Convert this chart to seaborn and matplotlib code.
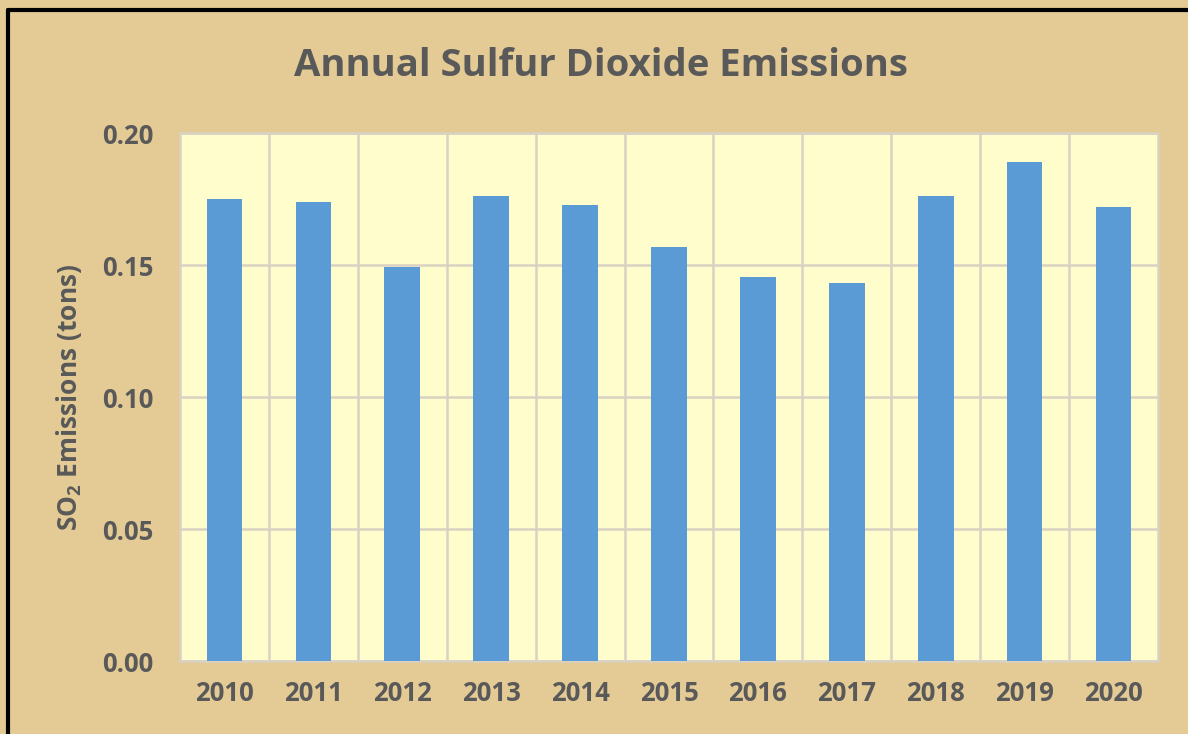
import pandas as pd
import matplotlib.pyplot as plt
import seaborn as sns

years = ["2010", "2011", "2012", "2013", "2014", "2015",
         "2016", "2017", "2018", "2019", "2020"]
emissions = [0.175, 0.1737, 0.1494, 0.1762, 0.1726, 0.1569,
             0.1456, 0.1432, 0.1761, 0.1889, 0.1719]

df = pd.DataFrame({"Year": years, "Emissions": emissions})

sns.set_style("white")
plt.rcParams["font.family"] = ["Open Sans", "DejaVu Sans"]
plt.rcParams["mathtext.fontset"] = "custom"
plt.rcParams["mathtext.rm"] = "Open Sans"
plt.rcParams["mathtext.bf"] = "Open Sans:bold"

text_color = "#595959"
grid_color = "#D9D2C3"

fig = plt.figure(figsize=(11.88, 7.34), dpi=100, facecolor="#E4CB96")
ax = fig.add_axes([180 / 1188, 1 - 661 / 734, 978 / 1188, 528 / 734])
ax.set_facecolor("#FFFDCC")

sns.barplot(data=df, x="Year", y="Emissions", color="#5B9BD5",
            saturation=1, width=0.4, linewidth=0, ax=ax, zorder=3)

ax.set_ylim(0, 0.20)
ax.set_yticks([0, 0.05, 0.10, 0.15, 0.20])
ax.set_yticklabels([f"{v:.2f}" for v in [0, 0.05, 0.10, 0.15, 0.20]])
ax.set_xlim(-0.5, len(years) - 0.5)
ax.set_xticks([i + 0.5 for i in range(len(years) - 1)], minor=True)

ax.grid(axis="y", which="major", color=grid_color, linewidth=1.8, zorder=1)
ax.grid(axis="x", which="minor", color=grid_color, linewidth=1.8, zorder=1)
ax.grid(axis="x", which="major", visible=False)
ax.tick_params(which="both", length=0)
ax.tick_params(axis="y", pad=19, labelsize=18.5, labelcolor=text_color)
ax.tick_params(axis="x", pad=14, labelsize=18.5, labelcolor=text_color)
for lbl in ax.get_xticklabels() + ax.get_yticklabels():
    lbl.set_fontweight("bold")

for side in ["left", "right", "bottom", "top"]:
    ax.spines[side].set_color(grid_color)
    ax.spines[side].set_linewidth(1.8)

ax.set_xlabel("")
ax.set_ylabel(r"SO$_{\mathbf{2}}$ Emissions (tons)", fontsize=19,
              fontweight="bold", color=text_color, labelpad=13)

fig.text(0.506, 1 - 66 / 734, "Annual Sulfur Dioxide Emissions",
         ha="center", va="center", fontsize=27.5, fontweight="bold",
         color=text_color)

# black frame on the left and top edges
fig.add_artist(plt.Line2D([8 / 1188, 8 / 1188], [0, 1 - 10 / 734],
                          color="black", linewidth=3, transform=fig.transFigure))
fig.add_artist(plt.Line2D([8 / 1188, 1], [1 - 10 / 734, 1 - 10 / 734],
                          color="black", linewidth=3, transform=fig.transFigure))

fig.savefig("out.png", dpi=100, facecolor=fig.get_facecolor())
